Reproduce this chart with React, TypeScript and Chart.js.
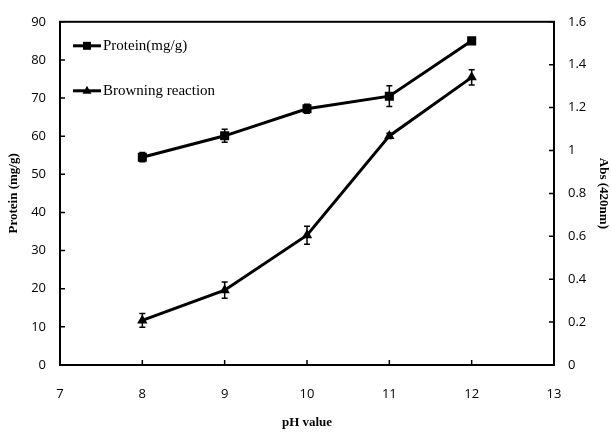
import { useEffect, useRef } from "react";
import { Chart, registerables } from "chart.js";
Chart.register(...registerables);

const phValues = [8, 9, 10, 11, 12];
const protein = [54.5, 60.1, 67.2, 70.5, 85.0];
const proteinErr = [1.2, 1.7, 1.2, 2.7, 0.6];
const browning = [0.208, 0.349, 0.605, 1.068, 1.341];
const browningErr = [0.032, 0.038, 0.042, 0.012, 0.036];
const seriesLabels = ["Protein(mg/g)", "Browning reaction"];
const seriesMarkers = ["rect", "triangle"];
const xTitle = "pH value";
const yLeftTitle = "Protein (mg/g)";
const yRightTitle = "Abs (420nm)";

const tickFont = { family: "'Open Sans', 'DejaVu Sans', sans-serif", size: 13 };
const titleFont = { family: "'Liberation Serif', 'Times New Roman', serif", size: 13, weight: "bold" as const };

const boxPlugin = {
  id: "boxAndTicks",
  afterDraw(chart: any) {
    const { ctx, chartArea: a, scales } = chart;
    ctx.save();
    ctx.strokeStyle = "#000";
    ctx.lineWidth = 2;
    ctx.strokeRect(a.left, a.top, a.right - a.left, a.bottom - a.top);
    ctx.lineWidth = 1.5;
    const len = 5;
    ctx.beginPath();
    scales.x.ticks.forEach((t: any) => {
      const px = scales.x.getPixelForValue(t.value);
      ctx.moveTo(px, a.bottom);
      ctx.lineTo(px, a.bottom - len);
    });
    scales.y.ticks.forEach((t: any) => {
      const py = scales.y.getPixelForValue(t.value);
      ctx.moveTo(a.left, py);
      ctx.lineTo(a.left + len, py);
    });
    scales.y2.ticks.forEach((t: any) => {
      const py = scales.y2.getPixelForValue(t.value);
      ctx.moveTo(a.right, py);
      ctx.lineTo(a.right - len, py);
    });
    ctx.stroke();
    ctx.restore();
  },
};

const errorPlugin = {
  id: "errorBars",
  afterDatasetsDraw(chart: any) {
    const { ctx, scales } = chart;
    const sets = [
      { vals: protein, errs: proteinErr, scale: scales.y },
      { vals: browning, errs: browningErr, scale: scales.y2 },
    ];
    ctx.save();
    ctx.strokeStyle = "#000";
    ctx.lineWidth = 1.5;
    sets.forEach((s) => {
      s.vals.forEach((v, i) => {
        const x = scales.x.getPixelForValue(phValues[i]);
        const yt = s.scale.getPixelForValue(v + s.errs[i]);
        const yb = s.scale.getPixelForValue(v - s.errs[i]);
        ctx.beginPath();
        ctx.moveTo(x, yt);
        ctx.lineTo(x, yb);
        ctx.moveTo(x - 3, yt);
        ctx.lineTo(x + 3, yt);
        ctx.moveTo(x - 3, yb);
        ctx.lineTo(x + 3, yb);
        ctx.stroke();
      });
    });
    ctx.restore();
  },
};

const legendPlugin = {
  id: "innerLegend",
  afterDraw(chart: any) {
    const { ctx, chartArea: a } = chart;
    ctx.save();
    const rows = [a.top + 24, a.top + 69];
    seriesLabels.forEach((label, i) => {
      const y = rows[i];
      const x0 = a.left + 13;
      ctx.strokeStyle = "#000";
      ctx.fillStyle = "#000";
      ctx.lineWidth = 3;
      ctx.beginPath();
      ctx.moveTo(x0, y);
      ctx.lineTo(x0 + 28, y);
      ctx.stroke();
      const cx = x0 + 14;
      ctx.beginPath();
      if (seriesMarkers[i] === "rect") {
        ctx.rect(cx - 4, y - 4, 8, 8);
      } else {
        ctx.moveTo(cx, y - 5);
        ctx.lineTo(cx + 4.5, y + 3);
        ctx.lineTo(cx - 4.5, y + 3);
        ctx.closePath();
      }
      ctx.fill();
      ctx.font = "15px 'Liberation Serif', 'Times New Roman', serif";
      ctx.textBaseline = "middle";
      ctx.textAlign = "left";
      ctx.fillText(label, x0 + 30, y);
    });
    ctx.restore();
  },
};

export default function App() {
  const ref = useRef<HTMLCanvasElement>(null);
  useEffect(() => {
    document.body.style.margin = "0";
    const chart = new Chart(ref.current!, {
      type: "line",
      data: {
        datasets: [
          {
            label: seriesLabels[0],
            data: phValues.map((x, i) => ({ x, y: protein[i] })),
            yAxisID: "y",
            borderColor: "#000",
            backgroundColor: "#000",
            borderWidth: 3,
            pointStyle: "rect",
            pointRadius: 6.4,
            pointBorderWidth: 0,
          },
          {
            label: seriesLabels[1],
            data: phValues.map((x, i) => ({ x, y: browning[i] })),
            yAxisID: "y2",
            borderColor: "#000",
            backgroundColor: "#000",
            borderWidth: 3,
            pointStyle: "triangle",
            pointRadius: 6,
            pointBorderWidth: 0,
          },
        ],
      },
      options: {
        animation: false,
        responsive: false,
        layout: { padding: { top: 13, left: 0, right: 0, bottom: 0 } },
        plugins: { legend: { display: false }, tooltip: { enabled: false } },
        scales: {
          x: {
            type: "linear",
            min: 7,
            max: 13,
            ticks: { stepSize: 1, color: "#000", font: tickFont, padding: 21 },
            grid: { display: true, drawOnChartArea: false, drawTicks: false },
            border: { display: false },
            title: { display: true, text: xTitle, color: "#000", font: titleFont, padding: { top: 0, bottom: 4 } },
            afterFit: (s: any) => { s.height = 69; },
          },
          y: {
            position: "left",
            min: 0,
            max: 90,
            ticks: { stepSize: 10, color: "#000", font: tickFont, padding: 14 },
            grid: { display: true, drawOnChartArea: false, drawTicks: false },
            border: { display: false },
            title: { display: true, text: yLeftTitle, color: "#000", font: titleFont, padding: { top: 6, bottom: 0 } },
            afterFit: (s: any) => { s.width = 60; },
          },
          y2: {
            position: "right",
            min: 0,
            max: 1.6,
            ticks: { stepSize: 0.2, color: "#000", font: tickFont, padding: 14, callback: (v: any) => String(Math.round(v * 10) / 10) },
            grid: { display: true, drawOnChartArea: false, drawTicks: false },
            border: { display: false },
            title: { display: true, text: yRightTitle, color: "#000", font: titleFont, padding: { top: 0, bottom: 0 } },
            afterFit: (s: any) => { s.width = 57; },
          },
        },
      },
      plugins: [errorPlugin, boxPlugin, legendPlugin],
    });
    return () => chart.destroy();
  }, []);
  return (
    <div style={{ width: 611, height: 434, background: "#fff" }}>
      <canvas ref={ref} width={611} height={434} style={{ display: "block" }} />
    </div>
  );
}
